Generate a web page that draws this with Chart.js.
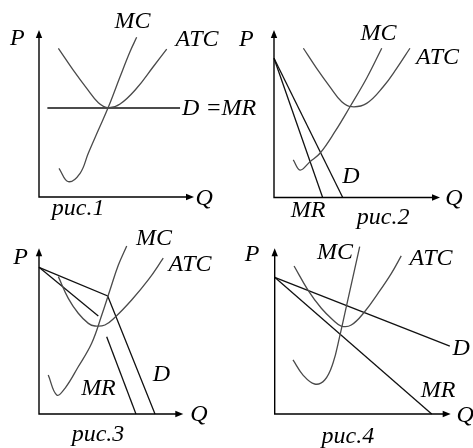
<!DOCTYPE html>
<html><head><meta charset="utf-8">
<script src="https://cdn.jsdelivr.net/npm/chart.js@4.4.1/dist/chart.umd.min.js"></script>
<style>
html,body{margin:0;padding:0;background:#fff;}
#wrap{position:relative;width:473px;height:448px;overflow:hidden;background:#fff}
#wrap canvas{position:absolute;left:0;top:0}
</style></head>
<body><div id="wrap"></div>
<script>
// ---------- DATA (Q, P in axis units 0..10) ----------
// рис.1
const p1ATC = [[1.25,8.90],[2.21,7.60],[3.08,6.51],[3.83,5.65],[4.47,5.35],[5.23,5.57],[6.30,6.51],[7.37,7.80],[8.24,8.86]];
const p1MC  = [[1.29,1.72],[1.89,0.92],[2.65,1.42],[3.18,2.62],[3.83,4.01],[4.47,5.37],[5.23,7.20],[5.87,8.70],[6.30,9.56]];
const p1D   = [[0.54,5.33],[9.10,5.33]];
// рис.2
const p2ATC = [[1.77,8.91],[2.57,7.71],[3.37,6.61],[4.08,5.72],[4.68,5.42],[5.58,5.62],[6.58,6.61],[7.39,7.71],[8.19,8.91]];
const p2MC  = [[1.16,2.24],[1.57,1.64],[2.17,2.14],[2.77,2.64],[3.67,3.93],[4.58,5.42],[5.58,7.12],[6.49,8.91]];
const p2D   = [[0,8.31],[4.14,0]];
const p2MR  = [[0,8.31],[2.93,0]];
// рис.3
const p3ATC = [[1.34,8.29],[2.03,6.98],[2.72,6.08],[3.42,5.47],[3.88,5.31],[4.57,5.37],[5.27,5.84],[6.42,6.88],[7.57,8.09],[8.61,9.40]];
const p3MC  = [[0.64,2.35],[1.23,1.15],[1.80,1.55],[2.72,2.85],[3.65,4.27],[4.35,5.97],[4.92,7.48],[5.50,8.99],[6.08,10.14]];
const p3D   = [[0,8.85],[4.76,7.12],[8.04,0]];
const p3MRa = [[0,8.85],[4.11,5.91]];
const p3MRb = [[4.69,4.66],[6.72,0]];
// рис.4
const p4ATC = [[1.10,8.93],[1.89,7.48],[2.65,6.38],[3.31,5.67],[3.78,5.31],[4.35,5.37],[5.11,6.17],[5.87,7.28],[6.63,8.49],[7.19,9.54]];
const p4MC  = [[1.04,3.26],[1.61,2.35],[2.27,1.81],[2.84,2.05],[3.31,3.06],[3.69,4.67],[4.07,6.48],[4.45,8.29],[4.83,10.10]];
const p4D   = [[0,8.25],[9.95,4.10]];
const p4MR  = [[0,8.25],[8.92,0]];

const titles = ['рис.1','рис.2','рис.3','рис.4'];

// ---------- LAYOUT ----------
const W = 473, H = 448;
const panels = [
  { area:{left:39,  top:30,    right:194,   bottom:197},
    curves:[p1ATC,p1MC], lines:[p1D],
    labels:[['P',-1.39,9.49],['MC',6.03,10.51],['ATC',10.19,9.40],['D =MR',9.23,5.30,'left'],['Q',10.65,-0.12],[titles[0],2.52,-0.72]] },
  { area:{left:274, top:30,    right:440,   bottom:197.5},
    curves:[p2ATC,p2MC], lines:[p2D,p2MR],
    labels:[['P',-1.66,9.40],['MC',6.30,9.79],['ATC',9.85,8.36],['D',4.64,1.25],['MR',2.05,-0.78],['Q',10.84,-0.09],[titles[1],6.57,-1.22]] },
  { area:{left:39,  top:248.3, right:183.3, bottom:414},
    curves:[p3ATC,p3MC], lines:[p3D,p3MRa,p3MRb],
    labels:[['P',-1.28,9.44],['MC',7.97,10.59],['ATC',10.46,8.99],['D',8.49,2.35],['MR',4.12,1.54],['Q',11.09,-0.06],[titles[2],4.09,-1.27]] },
  { area:{left:274.7,top:248.3,right:450.7, bottom:414},
    curves:[p4ATC,p4MC], lines:[p4D,p4MR],
    labels:[['P',-1.29,9.60],['MC',3.43,9.72],['ATC',8.88,9.35],['D',10.60,3.97],['MR',9.28,1.39],['Q',10.82,-0.12],[titles[3],4.16,-1.39]] }
];

const FONT = "italic 24px 'Liberation Serif'";

const decor = {
  id:'decor',
  afterDraw(chart, args, opts){
    const ctx = chart.ctx, x = chart.scales.x, y = chart.scales.y;
    const x0 = x.getPixelForValue(0), y0 = y.getPixelForValue(0);
    const xt = x.getPixelForValue(10), yt = y.getPixelForValue(10);
    ctx.save();
    ctx.strokeStyle = '#000'; ctx.fillStyle = '#000'; ctx.lineWidth = 1.4;
    ctx.beginPath();
    ctx.moveTo(x0, yt + 5); ctx.lineTo(x0, y0); ctx.lineTo(xt - 5, y0);
    ctx.stroke();
    ctx.beginPath();
    ctx.moveTo(x0, yt); ctx.lineTo(x0 - 3.2, yt + 8); ctx.lineTo(x0 + 3.2, yt + 8); ctx.closePath(); ctx.fill();
    ctx.beginPath();
    ctx.moveTo(xt, y0); ctx.lineTo(xt - 8, y0 - 3.2); ctx.lineTo(xt - 8, y0 + 3.2); ctx.closePath(); ctx.fill();
    ctx.restore();
    ctx.save();
    ctx.fillStyle = '#000';
    ctx.font = FONT;
    ctx.textBaseline = 'middle';
    opts.labels.forEach(l => {
      ctx.textAlign = l[3] || 'center';
      ctx.fillText(l[0], x.getPixelForValue(l[1]), y.getPixelForValue(l[2]));
    });
    ctx.restore();
  }
};

const wrap = document.getElementById('wrap');
panels.forEach(p => {
  const cv = document.createElement('canvas');
  cv.width = W; cv.height = H;
  cv.style.width = W + 'px'; cv.style.height = H + 'px';
  wrap.appendChild(cv);
  const ds = [];
  p.curves.forEach(c => ds.push({
    data: c.map(v => ({x:v[0], y:v[1]})), showLine:true, borderColor:'#4a4a4a', borderWidth:1.3,
    pointRadius:0, tension:0.4, clip:false, fill:false
  }));
  p.lines.forEach(c => ds.push({
    data: c.map(v => ({x:v[0], y:v[1]})), showLine:true, borderColor:'#111', borderWidth:1.3,
    pointRadius:0, tension:0, clip:false, fill:false
  }));
  new Chart(cv, {
    type:'scatter',
    data:{datasets:ds},
    options:{
      responsive:false, animation:false, devicePixelRatio:1,
      layout:{padding:{left:p.area.left, top:p.area.top, right:W - p.area.right, bottom:H - p.area.bottom}},
      scales:{
        x:{type:'linear', min:0, max:10, display:false},
        y:{type:'linear', min:0, max:10, display:false}
      },
      plugins:{legend:{display:false}, tooltip:{enabled:false}, decor:{labels:p.labels}}
    },
    plugins:[decor]
  });
});
</script>
</body></html>
